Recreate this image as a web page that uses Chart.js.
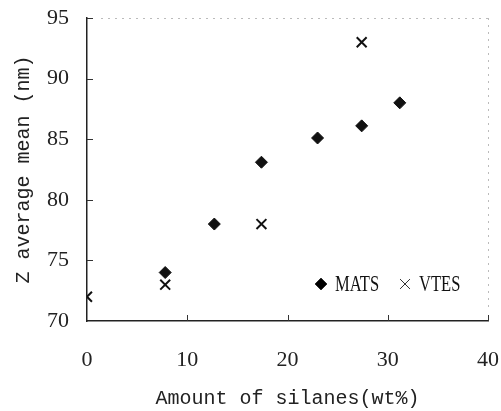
<!DOCTYPE html>
<html>
<head>
<meta charset="utf-8">
<script src="https://cdn.jsdelivr.net/npm/chart.js@4/dist/chart.umd.min.js"></script>
<style>
  body { margin: 0; background: #fff; }
  #wrap { width: 501px; height: 411px; }
</style>
</head>
<body>
<div id="wrap"><canvas id="zChart" width="501" height="411"></canvas></div>
<script>
// silane loading (wt%) vs Z average mean (nm)
var matsX = [7.8, 12.7, 17.4, 23.0, 27.4, 31.2];
var matsY = [74.0, 78.0, 83.1, 85.1, 86.1, 88.0];
var vtesX = [0, 7.8, 17.4, 27.4];
var vtesY = [72.0, 73.0, 78.0, 93.0];
var xTicks = [0, 10, 20, 30, 40];
var yTicks = [70, 75, 80, 85, 90, 95];

function toPoints(xs, ys) {
    return xs.map(function (x, i) { return { x: x, y: ys[i] }; });
}

// short inward ticks, faint top/right frame, legend inside the plot
var framePlugin = {
    id: 'frame',
    afterDraw: function (chart) {
        var ctx = chart.ctx;
        var a = chart.chartArea;
        var xs = chart.scales.x, ys = chart.scales.y;
        ctx.save();
        ctx.strokeStyle = '#bbb';
        ctx.lineWidth = 1;
        ctx.setLineDash([2, 5]);
        ctx.beginPath();
        ctx.moveTo(a.left + 14, a.top + 0.5);
        ctx.lineTo(a.right, a.top + 0.5);
        ctx.moveTo(a.right + 0.5, a.top);
        ctx.lineTo(a.right + 0.5, a.bottom - 10);
        ctx.stroke();
        ctx.setLineDash([]);

        ctx.strokeStyle = '#333';
        ctx.lineWidth = 1;
        ctx.beginPath();
        yTicks.slice(1).forEach(function (v) {
            var py = Math.round(ys.getPixelForValue(v)) + 0.5;
            ctx.moveTo(a.left, py);
            ctx.lineTo(a.left + 6, py);
        });
        xTicks.slice(1).forEach(function (v) {
            var px = Math.round(xs.getPixelForValue(v)) + 0.5;
            ctx.moveTo(px, a.bottom);
            ctx.lineTo(px, a.bottom - 6);
        });
        ctx.stroke();

        // legend
        var ly = a.bottom - 37;
        var items = [
            { ds: chart.data.datasets[0], x: a.right - 167 },
            { ds: chart.data.datasets[1], x: a.right - 83 }
        ];
        items.forEach(function (it) {
            Chart.helpers.drawPoint(ctx, {
                pointStyle: it.ds.pointStyle,
                radius: it.ds.pointRadius,
                borderWidth: it.ds.borderWidth
            }, it.x, ly);
            ctx.save();
            ctx.translate(it.x + 14, ly);
            ctx.scale(0.72, 1);
            ctx.fillStyle = '#111';
            ctx.font = '23px "Liberation Serif"';
            ctx.textBaseline = 'middle';
            ctx.fillText(it.ds.label, 0, 1);
            ctx.restore();
        });
        ctx.restore();
    }
};

var ctx = document.getElementById('zChart').getContext('2d');
var zChart = new Chart(ctx, {
    type: 'scatter',
    data: {
        datasets: [{
            label: 'MATS',
            data: toPoints(matsX, matsY),
            pointStyle: 'rectRot',
            pointRadius: 6,
            backgroundColor: '#111',
            borderColor: '#111',
            borderWidth: 1
        }, {
            label: 'VTES',
            data: toPoints(vtesX, vtesY),
            pointStyle: 'crossRot',
            pointRadius: 7,
            backgroundColor: '#111',
            borderColor: '#111',
            borderWidth: 2
        }]
    },
    options: {
        responsive: false,
        animation: false,
        events: [],
        layout: { padding: { left: 0, top: 18, right: 13, bottom: 0 } },
        plugins: {
            legend: { display: false },
            tooltip: { enabled: false }
        },
        scales: {
            x: {
                type: 'linear',
                min: 0,
                max: 40,
                afterBuildTicks: function (s) { s.ticks = xTicks.map(function (v) { return { value: v }; }); },
                afterFit: function (s) { s.height = 90; s.paddingLeft = 0; s.paddingRight = 0; },
                grid: { display: false, drawTicks: false },
                border: { display: true, color: '#222', width: 1.5 },
                ticks: { color: '#222', padding: 26, font: { family: '"Liberation Serif"', size: 22 } },
                title: {
                    display: true,
                    text: 'Amount of silanes(wt%)',
                    color: '#222',
                    padding: { top: 0, bottom: 0 },
                    font: { family: '"Liberation Mono"', size: 20 }
                }
            },
            y: {
                type: 'linear',
                min: 70,
                max: 95,
                afterBuildTicks: function (s) { s.ticks = yTicks.map(function (v) { return { value: v }; }); },
                afterFit: function (s) { s.width = 87; s.paddingTop = 0; s.paddingBottom = 0; },
                grid: { display: false, drawTicks: false },
                border: { display: true, color: '#222', width: 1.5 },
                ticks: { color: '#222', padding: 18, font: { family: '"Liberation Serif"', size: 22 } },
                title: {
                    display: true,
                    text: 'Z average mean (nm)',
                    color: '#222',
                    padding: { top: 12, bottom: 0 },
                    font: { family: '"Liberation Mono"', size: 20 }
                }
            }
        }
    },
    plugins: [framePlugin]
});
</script>
</body>
</html>
